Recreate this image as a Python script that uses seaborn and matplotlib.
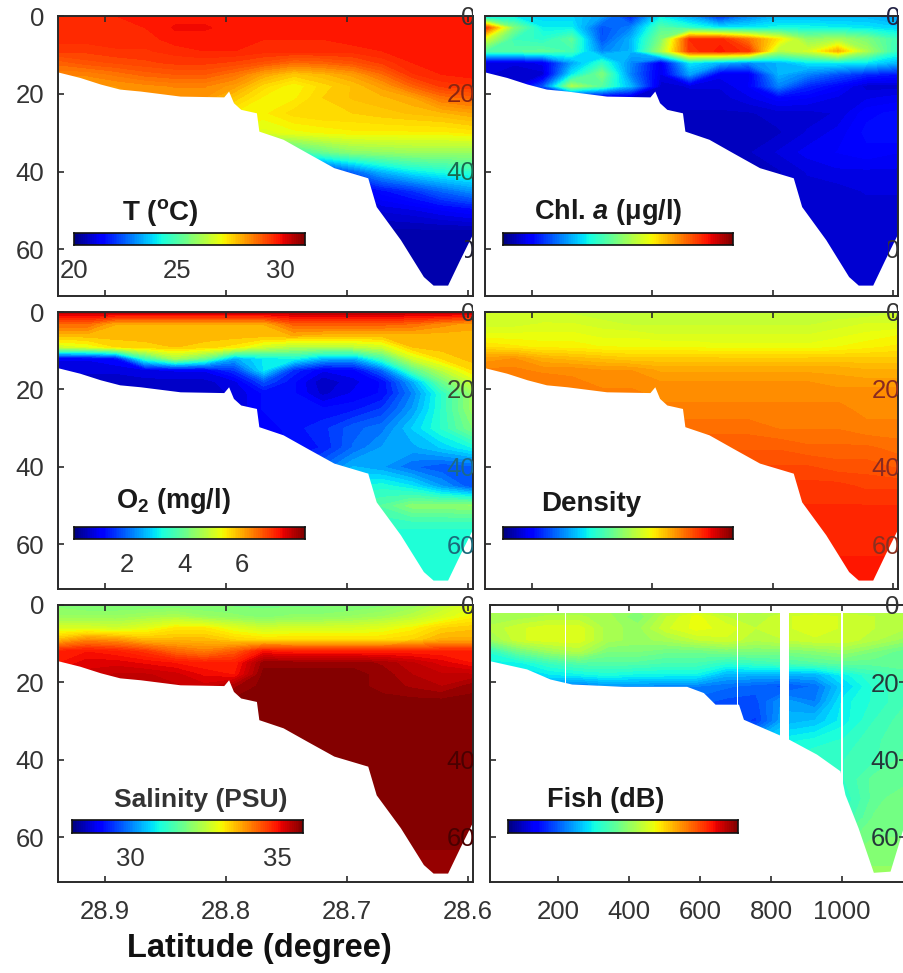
import numpy as np
import matplotlib
matplotlib.use('Agg')
import matplotlib.pyplot as plt
from matplotlib.transforms import Bbox
import seaborn as sns

sns.set_theme(style='white')
plt.rcParams['font.family'] = ['Liberation Sans', 'DejaVu Sans']
plt.rcParams['axes.axisbelow'] = False
plt.rcParams['mathtext.fontset'] = 'custom'
plt.rcParams['mathtext.rm'] = 'Liberation Sans'
plt.rcParams['mathtext.it'] = 'Liberation Sans:italic:bold'
plt.rcParams['mathtext.bf'] = 'Liberation Sans:bold'

W, H = 904, 973
INK = '#2a2a2a'
TICK_SIZE = 18.5

# ========== Data ==========
lat = [28.939, 28.915, 28.891, 28.867, 28.842, 28.818, 28.793, 28.769,
       28.744, 28.72, 28.695, 28.671, 28.646, 28.622, 28.596]
dist = [8, 91, 174, 258, 341, 424, 507, 590, 674, 757, 840, 924, 1007, 1090, 1174]
depth = [0, 3, 6, 9, 12, 15, 18, 21, 25, 30, 35, 40, 45, 50, 55, 60, 72]

# seabed along the latitude section
floor_lat = [28.939, 28.921, 28.904, 28.888, 28.871, 28.838, 28.802, 28.798, 28.794,
             28.788, 28.775, 28.773, 28.753, 28.733, 28.711, 28.683, 28.676, 28.656,
             28.637, 28.629, 28.617, 28.607, 28.596]
floor_depth = [14.4, 15.8, 17.5, 18.8, 19.3, 20.6, 20.8, 19.3, 22.3, 24.0, 24.9, 29.6,
               31.7, 35.2, 39.0, 41.6, 49.0, 57.5, 67.0, 69.2, 69.2, 62.7, 55.8]

# seabed along the fish track
floor_dist = [8, 111, 177, 238, 384, 562, 609, 642, 708, 722, 820, 851, 928, 994,
              1008, 1045, 1088, 1135, 1158, 1180]
floor_fish = [14.4, 16.5, 19.1, 20.4, 21, 21, 22.6, 25.6, 25.6, 29.5, 33.4, 34.7,
              38.5, 42.8, 48.9, 57.5, 69, 68.7, 61.8, 55]
fish_gaps = [(826, 850), (703, 708), (996, 1002), (218, 221)]

temp = [
    [29.7, 29.7, 29.8, 29.8, 29.9, 29.9, 29.9, 29.9, 29.9, 29.9, 29.9, 29.9, 29.9, 29.9, 29.9],
    [29.7, 29.7, 29.7, 29.8, 30.0, 30.0, 29.9, 29.9, 29.9, 29.9, 29.9, 29.9, 29.9, 29.9, 29.9],
    [29.7, 29.7, 29.7, 29.7, 29.9, 29.9, 29.9, 29.8, 29.8, 29.8, 29.9, 29.9, 29.9, 29.9, 29.9],
    [29.5, 29.5, 29.6, 29.6, 29.7, 29.8, 29.8, 29.7, 29.7, 29.7, 29.7, 29.8, 29.9, 29.9, 29.9],
    [29.0, 29.2, 29.3, 29.4, 29.5, 29.5, 29.4, 29.2, 28.9, 29.0, 29.2, 29.5, 29.8, 29.9, 29.9],
    [28.6, 28.6, 28.8, 29.0, 29.1, 29.1, 28.8, 28.2, 27.8, 28.0, 28.3, 28.9, 29.6, 29.8, 29.9],
    [28.4, 28.4, 28.4, 28.5, 28.6, 28.6, 28.3, 27.6, 27.2, 27.6, 27.9, 28.3, 29.0, 29.5, 29.6],
    [28.4, 28.4, 28.4, 28.4, 28.4, 28.4, 27.8, 27.3, 27.3, 27.7, 27.9, 28.0, 28.2, 28.8, 29.0],
    [28.4, 28.4, 28.4, 28.4, 28.4, 28.0, 27.3, 27.3, 27.6, 27.7, 27.7, 27.8, 27.9, 28.0, 28.2],
    [28.4, 28.4, 28.4, 28.4, 28.0, 27.5, 27.1, 26.9, 27.1, 27.2, 27.3, 27.3, 27.3, 27.3, 27.4],
    [28.4, 28.4, 28.4, 28.0, 27.0, 26.0, 25.0, 24.5, 24.7, 25.3, 25.8, 25.9, 26.0, 26.0, 26.0],
    [28.4, 28.4, 28.0, 27.0, 25.0, 23.0, 22.0, 21.5, 21.5, 21.5, 22.5, 23.4, 24.0, 24.3, 24.5],
    [28.4, 28.0, 27.0, 25.0, 23.0, 21.0, 21.0, 21.0, 21.0, 21.0, 21.0, 21.5, 21.9, 22.5, 23.0],
    [28.0, 27.0, 25.0, 23.0, 21.0, 20.9, 20.9, 20.9, 20.9, 20.9, 20.9, 20.9, 21.0, 21.2, 21.4],
    [27.0, 25.0, 23.0, 21.0, 20.5, 20.5, 20.5, 20.5, 20.5, 20.5, 20.5, 20.5, 20.5, 20.5, 20.5],
    [25.0, 23.0, 21.0, 20.4, 20.4, 20.4, 20.4, 20.4, 20.4, 20.4, 20.4, 20.4, 20.4, 20.4, 20.4],
    [21.0, 20.4, 20.4, 20.4, 20.4, 20.4, 20.4, 20.4, 20.4, 20.4, 20.4, 20.4, 20.4, 20.4, 20.4],
]

chl = [
    [3.0, 3.5, 3.3, 3.3, 2.8, 1.5, 3.5, 2.8, 1.5, 2.5, 3.0, 3.0, 3.0, 3.0, 2.7],
    [8.5, 5.0, 3.6, 3.6, 2.0, 2.5, 4.5, 4.0, 3.5, 3.5, 3.7, 3.7, 3.6, 3.5, 3.3],
    [6.0, 4.2, 4.0, 4.6, 2.0, 3.0, 5.0, 8.6, 8.7, 7.8, 6.6, 5.2, 5.5, 5.0, 4.2],
    [4.5, 4.5, 4.6, 4.3, 2.5, 3.0, 5.5, 8.5, 8.8, 8.5, 5.6, 6.0, 7.2, 5.5, 4.0],
    [0.8, 0.8, 1.0, 2.8, 4.0, 2.6, 1.0, 3.5, 3.0, 2.6, 3.0, 3.5, 3.6, 3.5, 3.0],
    [0.8, 0.7, 0.7, 3.5, 5.0, 2.5, 0.9, 2.8, 1.0, 1.0, 3.0, 2.5, 2.0, 1.6, 1.4],
    [0.8, 0.7, 2.0, 5.5, 4.5, 3.0, 0.7, 0.8, 0.8, 1.1, 2.5, 1.6, 1.2, 0.7, 0.7],
    [0.7, 0.7, 0.7, 0.7, 0.7, 0.7, 0.7, 0.7, 0.7, 0.9, 1.2, 1.1, 0.9, 0.9, 1.0],
    [0.6, 0.6, 0.6, 0.6, 0.6, 0.6, 0.6, 0.6, 0.6, 0.6, 0.7, 0.7, 0.8, 1.2, 1.3],
    [0.6, 0.6, 0.6, 0.6, 0.6, 0.6, 0.6, 0.6, 0.6, 0.6, 0.6, 0.8, 1.0, 1.3, 1.4],
    [0.6, 0.6, 0.6, 0.6, 0.6, 0.6, 0.6, 0.6, 0.6, 0.6, 0.8, 1.0, 1.1, 1.2, 1.1],
    [0.6, 0.6, 0.6, 0.6, 0.6, 0.6, 0.6, 0.6, 0.6, 0.6, 0.6, 0.8, 0.9, 0.9, 0.9],
    [0.6, 0.6, 0.6, 0.6, 0.6, 0.6, 0.6, 0.6, 0.6, 0.6, 0.7, 0.7, 0.7, 0.8, 0.8],
    [0.6, 0.6, 0.6, 0.6, 0.6, 0.6, 0.6, 0.6, 0.6, 0.6, 0.7, 0.7, 0.7, 0.7, 0.7],
    [0.6, 0.6, 0.6, 0.6, 0.6, 0.6, 0.6, 0.6, 0.6, 0.6, 0.7, 0.7, 0.7, 0.7, 0.7],
    [0.6, 0.6, 0.6, 0.6, 0.6, 0.6, 0.6, 0.6, 0.6, 0.6, 0.7, 0.7, 0.7, 0.7, 0.7],
    [0.6, 0.6, 0.6, 0.6, 0.6, 0.6, 0.6, 0.6, 0.6, 0.6, 0.7, 0.7, 0.7, 0.7, 0.7],
]

oxygen = [
    [7.8, 7.8, 7.8, 7.8, 7.8, 7.8, 7.8, 7.8, 7.8, 7.8, 7.8, 7.8, 7.8, 7.8, 7.8],
    [6.6, 6.6, 6.0, 6.0, 6.0, 6.0, 6.0, 6.0, 6.7, 6.7, 6.7, 6.7, 6.6, 6.3, 6.1],
    [5.9, 5.9, 5.9, 5.9, 5.9, 5.9, 5.9, 5.9, 6.0, 5.9, 5.9, 5.9, 5.9, 5.9, 5.9],
    [5.0, 5.2, 5.6, 5.7, 5.8, 5.7, 5.5, 5.0, 4.7, 4.7, 4.8, 5.0, 5.8, 5.9, 5.9],
    [1.0, 1.0, 1.2, 3.5, 4.6, 4.0, 2.5, 3.0, 3.2, 2.6, 2.5, 3.6, 5.0, 5.6, 5.9],
    [0.8, 0.8, 0.8, 0.9, 1.0, 1.0, 1.6, 3.0, 1.5, 1.0, 1.1, 2.0, 3.8, 4.8, 5.6],
    [0.7, 0.7, 0.7, 0.7, 0.7, 0.7, 0.9, 1.8, 1.2, 0.6, 0.9, 1.2, 2.5, 4.0, 5.0],
    [0.7, 0.7, 0.7, 0.7, 0.7, 0.7, 0.8, 1.2, 1.2, 0.7, 1.0, 1.2, 2.2, 3.4, 4.5],
    [0.7, 0.7, 0.7, 0.7, 0.7, 0.7, 0.8, 1.2, 1.3, 1.2, 1.3, 1.6, 2.4, 3.4, 4.5],
    [0.7, 0.7, 0.7, 0.7, 0.7, 0.7, 0.8, 1.0, 1.3, 1.5, 1.9, 2.1, 2.8, 3.4, 4.2],
    [0.7, 0.7, 0.7, 0.7, 0.7, 0.7, 0.8, 1.0, 1.2, 1.4, 2.0, 2.4, 2.5, 2.8, 3.2],
    [0.7, 0.7, 0.7, 0.7, 0.7, 0.8, 1.0, 1.2, 1.6, 2.0, 2.6, 2.4, 2.0, 1.8, 1.9],
    [0.7, 0.7, 0.7, 0.7, 0.8, 1.0, 1.4, 1.8, 2.4, 2.8, 3.2, 3.3, 3.0, 2.4, 1.8],
    [0.7, 0.7, 0.7, 0.8, 1.0, 1.4, 1.8, 2.4, 3.0, 3.4, 3.6, 3.8, 4.3, 4.3, 4.4],
    [0.7, 0.7, 0.8, 1.0, 1.4, 1.8, 2.4, 3.0, 3.4, 3.4, 3.4, 3.4, 3.4, 3.4, 3.4],
    [0.7, 0.8, 1.0, 1.4, 1.8, 2.4, 3.0, 3.3, 3.3, 3.3, 3.3, 3.3, 3.3, 3.3, 3.3],
    [1.0, 1.4, 1.8, 2.4, 3.0, 3.3, 3.3, 3.3, 3.3, 3.3, 3.3, 3.3, 3.3, 3.3, 3.3],
]

density = [
    [22.0, 22.0, 22.0, 21.9, 21.8, 21.8, 21.8, 21.8, 21.8, 21.8, 21.8, 21.8, 21.8, 21.8, 21.9],
    [22.0, 22.0, 22.1, 22.1, 22.0, 21.9, 21.9, 21.9, 21.9, 21.9, 21.9, 21.9, 22.0, 22.1, 22.1],
    [22.3, 22.3, 22.3, 22.3, 22.2, 22.2, 22.1, 22.1, 22.1, 22.1, 22.1, 22.1, 22.2, 22.3, 22.4],
    [22.7, 22.6, 22.5, 22.5, 22.4, 22.4, 22.4, 22.4, 22.3, 22.3, 22.3, 22.3, 22.4, 22.5, 22.6],
    [23.4, 23.5, 23.2, 23.1, 23.0, 22.9, 22.9, 22.9, 22.9, 22.9, 22.9, 22.9, 22.9, 22.9, 22.9],
    [23.7, 23.7, 23.6, 23.6, 23.5, 23.5, 23.3, 23.3, 23.3, 23.3, 23.3, 23.3, 23.3, 23.2, 23.2],
    [23.9, 23.8, 23.8, 23.7, 23.6, 23.6, 23.5, 23.5, 23.5, 23.5, 23.5, 23.5, 23.4, 23.4, 23.4],
    [23.9, 23.9, 23.8, 23.8, 23.7, 23.7, 23.6, 23.6, 23.6, 23.6, 23.6, 23.6, 23.6, 23.6, 23.6],
    [23.9, 23.9, 23.9, 23.8, 23.8, 23.8, 23.7, 23.7, 23.7, 23.7, 23.7, 23.7, 23.7, 23.6, 23.6],
    [23.9, 23.9, 23.9, 23.9, 23.9, 23.9, 23.9, 23.9, 23.9, 23.9, 23.8, 23.8, 23.8, 23.7, 23.7],
    [24.1, 24.1, 24.1, 24.1, 24.1, 24.1, 24.1, 24.1, 24.1, 24.1, 24.1, 24.0, 24.0, 24.0, 23.9],
    [24.3, 24.3, 24.3, 24.3, 24.3, 24.3, 24.3, 24.3, 24.3, 24.3, 24.3, 24.3, 24.2, 24.2, 24.1],
    [24.5, 24.5, 24.5, 24.5, 24.5, 24.5, 24.5, 24.5, 24.5, 24.5, 24.5, 24.5, 24.5, 24.4, 24.4],
    [24.6, 24.6, 24.6, 24.6, 24.6, 24.6, 24.6, 24.6, 24.6, 24.6, 24.6, 24.6, 24.6, 24.6, 24.6],
    [24.7, 24.7, 24.7, 24.7, 24.7, 24.7, 24.7, 24.7, 24.7, 24.7, 24.7, 24.7, 24.7, 24.7, 24.6],
    [24.7, 24.7, 24.7, 24.7, 24.7, 24.7, 24.7, 24.7, 24.7, 24.7, 24.7, 24.7, 24.7, 24.7, 24.7],
    [24.9, 24.9, 24.9, 24.9, 24.9, 24.9, 24.9, 24.9, 24.9, 24.9, 24.9, 24.9, 24.9, 24.9, 24.9],
]

salinity = [
    [32.0, 31.9, 31.9, 31.9, 31.9, 31.9, 31.9, 31.9, 31.9, 31.9, 31.9, 32.0, 32.2, 32.5, 32.9],
    [32.2, 32.2, 32.2, 32.3, 32.4, 32.2, 32.1, 32.0, 32.1, 32.1, 32.2, 32.3, 32.5, 32.8, 33.1],
    [32.8, 32.8, 32.7, 32.9, 33.2, 33.2, 32.9, 32.7, 32.8, 32.8, 32.8, 32.9, 33.1, 33.4, 33.5],
    [33.6, 34.0, 33.9, 33.6, 33.6, 33.6, 33.4, 33.3, 33.3, 33.3, 33.3, 33.3, 33.4, 33.7, 33.7],
    [34.9, 35.0, 34.9, 34.7, 34.3, 34.1, 34.4, 35.0, 34.9, 34.9, 34.9, 34.9, 34.9, 34.9, 34.9],
    [35.0, 35.2, 35.2, 35.1, 35.0, 34.9, 34.9, 35.7, 35.7, 35.7, 35.7, 35.6, 35.4, 35.2, 35.0],
    [35.2, 35.3, 35.4, 35.4, 35.3, 35.1, 35.0, 35.8, 35.8, 35.8, 35.8, 35.7, 35.5, 35.4, 35.4],
    [35.4, 35.4, 35.4, 35.4, 35.4, 35.3, 35.6, 35.8, 35.8, 35.8, 35.8, 35.7, 35.6, 35.5, 35.7],
    [35.6, 35.6, 35.6, 35.6, 35.6, 35.6, 35.8, 35.8, 35.8, 35.8, 35.8, 35.8, 35.8, 35.8, 35.8],
    [35.8, 35.8, 35.8, 35.8, 35.8, 35.8, 35.8, 35.8, 35.8, 35.8, 35.8, 35.8, 35.8, 35.8, 35.8],
    [35.8, 35.8, 35.8, 35.8, 35.8, 35.8, 35.8, 35.8, 35.8, 35.8, 35.8, 35.8, 35.8, 35.8, 35.8],
    [35.8, 35.8, 35.8, 35.8, 35.8, 35.8, 35.8, 35.8, 35.8, 35.8, 35.8, 35.8, 35.8, 35.8, 35.8],
    [35.8, 35.8, 35.8, 35.8, 35.8, 35.8, 35.8, 35.8, 35.8, 35.8, 35.8, 35.8, 35.8, 35.8, 35.8],
    [35.8, 35.8, 35.8, 35.8, 35.8, 35.8, 35.8, 35.8, 35.8, 35.8, 35.8, 35.8, 35.8, 35.8, 35.8],
    [35.8, 35.8, 35.8, 35.8, 35.8, 35.8, 35.8, 35.8, 35.8, 35.8, 35.8, 35.8, 35.8, 35.8, 35.8],
    [35.8, 35.8, 35.8, 35.8, 35.8, 35.8, 35.8, 35.8, 35.8, 35.8, 35.8, 35.8, 35.8, 35.8, 35.8],
    [35.6, 35.6, 35.6, 35.6, 35.6, 35.6, 35.6, 35.6, 35.6, 35.6, 35.6, 35.6, 35.6, 35.6, 35.6],
]

fish = [
    [-58, -58, -58, -58, -58, -58, -58, -58, -58, -58, -58, -58, -58, -58, -58],
    [-57, -57, -56, -56, -57, -60, -55, -52, -55, -56, -54, -53, -54, -55, -56],
    [-56, -54, -53, -53, -57, -58, -54, -52, -53, -55, -54, -53, -54, -55, -56],
    [-58, -54, -53, -53, -57, -58, -57, -55, -54, -56, -55, -54, -54, -56, -58],
    [-66, -61, -58, -56, -60, -60, -61, -61, -60, -60, -60, -59, -58, -60, -62],
    [-68, -68, -65, -63, -63, -63, -64, -64, -66, -65, -64, -63, -62, -62, -62],
    [-70, -70, -69, -68, -67, -68, -68, -68, -72, -72, -72, -72, -68, -65, -63],
    [-74, -74, -74, -76, -74, -74, -75, -75, -76, -77, -78, -76, -70, -66, -64],
    [-77, -77, -77, -77, -77, -77, -77, -77, -78, -78, -73, -75, -68, -66, -64],
    [-77, -77, -77, -77, -77, -77, -77, -77, -78, -79, -72, -71, -68, -65, -63],
    [-77, -77, -77, -77, -77, -77, -77, -77, -76, -72, -68, -67, -66, -64, -63],
    [-70, -70, -70, -70, -70, -70, -70, -70, -70, -68, -66, -65, -65, -64, -62],
    [-68, -68, -68, -68, -68, -68, -68, -68, -68, -67, -66, -66, -65, -62, -62],
    [-66, -66, -66, -66, -66, -66, -66, -66, -66, -66, -66, -66, -66, -62, -60],
    [-65, -65, -65, -65, -65, -65, -65, -65, -65, -65, -65, -65, -65, -61, -60],
    [-62, -62, -62, -62, -62, -62, -62, -62, -62, -62, -62, -62, -62, -60, -60],
    [-58, -58, -58, -58, -58, -58, -58, -58, -58, -58, -58, -58, -58, -58, -58],
]

lat_ticks = [28.9, 28.8, 28.7, 28.6]
dist_ticks = [200, 400, 600, 800, 1000]
depth_ticks = [0, 20, 40, 60]
temp_ticks, oxygen_ticks, salinity_ticks = [20, 25, 30], [2, 4, 6], [30, 35]


# ========== Helpers ==========
fig = plt.figure(figsize=(W / 100, H / 100), dpi=100, facecolor='white')
jet = plt.get_cmap('jet')


def px_axes(x0, y0, x1, y1):
    return fig.add_axes([x0 / W, 1 - y1 / H, (x1 - x0) / W, (y1 - y0) / H])


def panel(box, x, values, vmin, vmax, xlim, ylim, xticks, fx, fy, levels=64):
    ax = px_axes(*box)
    ax.contourf(x, depth, values, levels=np.linspace(vmin, vmax, levels + 1),
                cmap=jet, extend='both')
    ax.fill_between(fx, fy, ylim, color='white', lw=0, zorder=2)
    ax.set_xlim(*xlim)
    ax.set_ylim(ylim, 0)
    ax.set_xticks(xticks)
    ax.set_yticks(depth_ticks)
    ax.tick_params(direction='in', top=True, bottom=True, left=True, length=4,
                   width=1.2, color=INK, labelsize=TICK_SIZE, labelcolor='#333333', pad=10)
    ax.tick_params(axis='x', pad=13)
    for s in ax.spines.values():
        s.set_visible(True)
        s.set_color(INK)
        s.set_linewidth(1.4)
        s.set_zorder(5)
    ax.grid(False)
    return ax


def color_strip(box, vmin, vmax, ticks):
    # gradient strip drawn as a one-row seaborn heatmap
    cax = px_axes(*box)
    sns.heatmap(np.linspace(vmin, vmax, 128)[None, :], cmap=jet, vmin=vmin, vmax=vmax,
                cbar=False, xticklabels=False, yticklabels=False, ax=cax)
    for s in cax.spines.values():
        s.set_visible(True)
        s.set_color('#111111')
        s.set_linewidth(1.2)
    if ticks:
        cax.set_xticks([(t - vmin) / (vmax - vmin) * 128 for t in ticks])
        cax.set_xticklabels([str(t) for t in ticks])
        cax.tick_params(axis='x', bottom=False, labelsize=TICK_SIZE, labelcolor='#333333', pad=4)
    return cax


def ftext(x, y, s, size=19, weight='bold', color='#1a1a1a', **kw):
    fig.text(x / W, 1 - y / H, s, fontsize=size, fontweight=weight, color=color,
             ha='center', va='center', **kw)


def edge_labels(box, colors, right=None, left=None):
    # tick labels of the neighbouring panel that show through at the right edge
    right = box[2] if right is None else right
    for d, c in zip(depth_ticks, colors):
        if c is None:
            continue
        y_px = box[1] + 2 + d * 3.875
        cut = left.get(d, 0) if left else 0
        t = fig.text((right + 2) / W, 1 - y_px / H, str(d), ha='right', va='center',
                     fontsize=TICK_SIZE, color=c, zorder=6)
        t.set_clip_on(True)
        t.set_clip_box(Bbox([[cut, 0], [box[2], H]]))


# ========== Panels ==========
LEFT = (58, 473)
RIGHT = (485, 898)
ROWS = [(16, 296), (312, 589), (605, 882)]
lat_lim = (28.939, 28.596)

box = (LEFT[0], ROWS[0][0], LEFT[1], ROWS[0][1])
ax1 = panel(box, lat, temp, 20, 31.2, lat_lim, 72, lat_ticks, floor_lat, floor_depth)
ax1.set_xticklabels([])
edge_labels(box, ['#333333', '#8a2510', '#1a6a50', '#222233'], left={60: 465})

box = (RIGHT[0], ROWS[0][0], RIGHT[1], ROWS[0][1])
ax2 = panel(box, lat, chl, 0, 10, lat_lim, 72, lat_ticks, floor_lat, floor_depth)
ax2.set_xticklabels([])
ax2.set_yticklabels([])
edge_labels(box, ['#222244', None, None, '#333333'], left={0: 885, 60: 888})

box = (LEFT[0], ROWS[1][0], LEFT[1], ROWS[1][1])
ax3 = panel(box, lat, oxygen, 0.17, 8.2, lat_lim, 71.5, lat_ticks, floor_lat, floor_depth, levels=40)
ax3.set_xticklabels([])
edge_labels(box, ['#333333', '#3a4a30', '#1a6a8a', '#1a6a7a'])

box = (RIGHT[0], ROWS[1][0], RIGHT[1], ROWS[1][1])
ax4 = panel(box, lat, density, 16, 26, lat_lim, 71.5, lat_ticks, floor_lat, floor_depth)
ax4.set_xticklabels([])
ax4.set_yticklabels([])
edge_labels(box, ['#333333', '#8a2a20', '#8a2a20', '#8a3020'])

box = (LEFT[0], ROWS[2][0], LEFT[1], ROWS[2][1])
ax5 = panel(box, lat, salinity, 28, 35.87, lat_lim, 71.5, lat_ticks, floor_lat, floor_depth)
edge_labels(box, ['#333333', None, '#4a0000', '#4a0000'])

box = (490, ROWS[2][0], 906, ROWS[2][1])
ax6 = panel(box, dist, fish, -90, -30, (8, 1180), 71.5, dist_ticks, floor_dist, floor_fish, levels=48)
ax6.set_yticklabels([])
ax6.axhspan(0, 2, color='white', lw=0, zorder=2)
for g0, g1 in fish_gaps:
    ax6.axvspan(g0, g1, color='white', lw=0, zorder=2)
ax6.hlines(depth_ticks[1:], 1160, 1180, color='#25383a', lw=1.2, zorder=6)
edge_labels(box, ['#333333', '#25383a', '#25383a', '#25383a'], right=897)

# ========== Colour strips ==========
color_strip((74, 233, 305, 245), 20, 31.2, temp_ticks)
color_strip((503, 233, 733, 245), 0, 10, None)
color_strip((74, 527, 305, 539), 0.17, 8.2, oxygen_ticks)
color_strip((503, 527, 733, 539), 16, 26, None)
color_strip((72, 820, 303, 833), 28, 35.87, salinity_ticks)
color_strip((508, 820, 738, 833), -90, -30, None)

ftext(160, 212, r'T ($\mathbf{^{o}}$C)', size=20)
ftext(608, 212, r'Chl. $\mathit{a}$ ($\mathbf{\mu}$g/l)', size=19.5)
ftext(173, 501, r'O$\mathbf{_{2}}$ (mg/l)', size=19.5)
ftext(591, 504, 'Density', size=20)
ftext(201, 800, 'Salinity (PSU)', color='#333333', size=19)
ftext(606, 800, 'Fish (dB)', size=19.5)
ftext(259, 949, 'Latitude (degree)', size=23.5, color='#111111')

fig.savefig('out.png', dpi=100, facecolor='white')
